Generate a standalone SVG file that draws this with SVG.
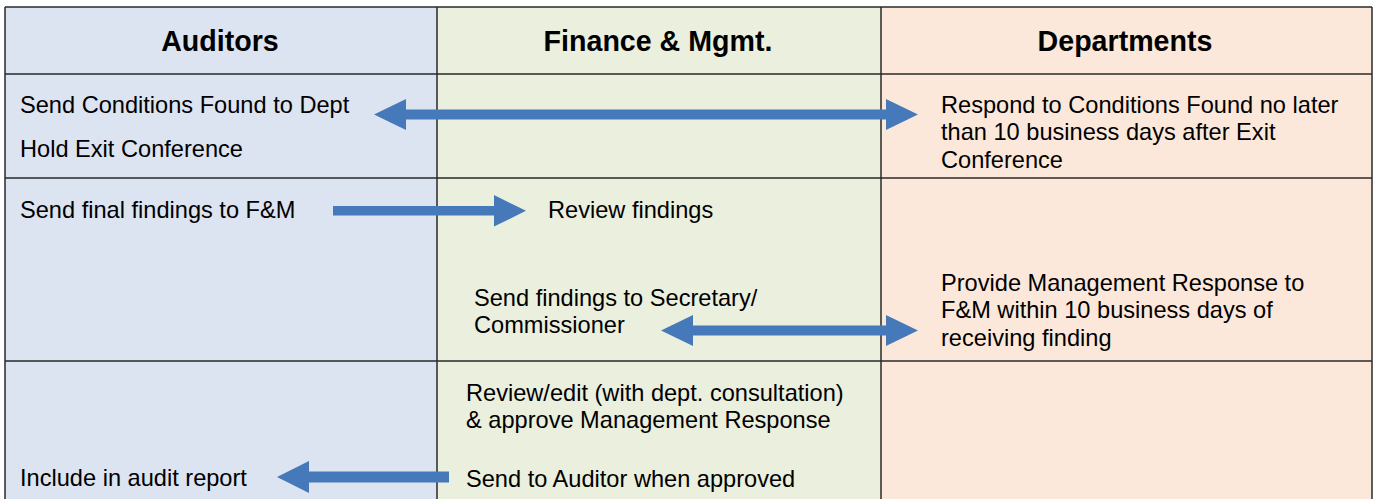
<svg xmlns="http://www.w3.org/2000/svg" width="1373" height="499" viewBox="0 0 1373 499">
<style>
.hdr{font-family:"Liberation Sans",Arial,sans-serif;font-weight:bold;font-size:28.6px;fill:#000;text-anchor:middle}
.txt{font-family:"Liberation Sans",Arial,sans-serif;font-size:23.6px;fill:#000}
.grid{stroke:#2a2a2a;stroke-width:1.5;fill:none}
.arrow{fill:#4679BA}
</style>
<rect x="0" y="0" width="1373" height="499" fill="#ffffff"/>
<g id="lane-auditors">
<rect x="5" y="7" width="432" height="492" fill="#DCE3F1"/>
<text class="hdr" x="220" y="51">Auditors</text>
</g>
<g id="lane-finance">
<rect x="437" y="7" width="444" height="492" fill="#EBEFDE"/>
<text class="hdr" x="658" y="51">Finance &amp; Mgmt.</text>
</g>
<g id="lane-departments">
<rect x="881" y="7" width="491" height="492" fill="#FCE8DA"/>
<text class="hdr" x="1125" y="51">Departments</text>
</g>
<g id="grid-lines">
<path class="grid" d="M5,7 H1372 M5,7 V499 M1372,7 V499 M437,7 V499 M881,7 V499 M5,74 H1372 M5,178 H1372 M5,361 H1372"/>
</g>
<g id="node-send-conditions">
<text class="txt" x="20" y="113">Send Conditions Found to Dept</text>
</g>
<g id="node-hold-exit">
<text class="txt" x="20" y="157">Hold Exit Conference</text>
</g>
<g id="node-respond">
<text class="txt" x="941" y="113">Respond to Conditions Found no later</text>
<text class="txt" x="941" y="140">than 10 business days after Exit</text>
<text class="txt" x="941" y="167.5">Conference</text>
</g>
<g id="node-send-final">
<text class="txt" x="20" y="218">Send final findings to F&amp;M</text>
</g>
<g id="node-review-findings">
<text class="txt" x="548" y="218">Review findings</text>
</g>
<g id="node-send-secretary">
<text class="txt" x="474" y="305.5">Send findings to Secretary/</text>
<text class="txt" x="474" y="333">Commissioner</text>
</g>
<g id="node-provide-response">
<text class="txt" x="941" y="290.5">Provide Management Response to</text>
<text class="txt" x="941" y="318">F&amp;M within 10 business days of</text>
<text class="txt" x="941" y="345.5">receiving finding</text>
</g>
<g id="node-review-edit">
<text class="txt" x="466" y="401">Review/edit (with dept. consultation)</text>
<text class="txt" x="466" y="427.5">&amp; approve Management Response</text>
</g>
<g id="node-send-auditor">
<text class="txt" x="466" y="486.5">Send to Auditor when approved</text>
</g>
<g id="node-include-report">
<text class="txt" x="20" y="486">Include in audit report</text>
</g>
<g id="connectors">
<polygon class="arrow" points="374,114.5 406,99 406,109.5 886,109.5 886,99 918,114.5 886,130 886,119.5 406,119.5 406,130"/>
<polygon class="arrow" points="333,206 494,206 494,195 526,210.8 494,226.5 494,215.5 333,215.5"/>
<polygon class="arrow" points="661,330.5 693,315 693,325.5 886,325.5 886,315 918,330.5 886,346 886,335.5 693,335.5 693,346"/>
<polygon class="arrow" points="277,477 309,461 309,471.5 449,471.5 449,482.5 309,482.5 309,493"/>
</g>
</svg>
